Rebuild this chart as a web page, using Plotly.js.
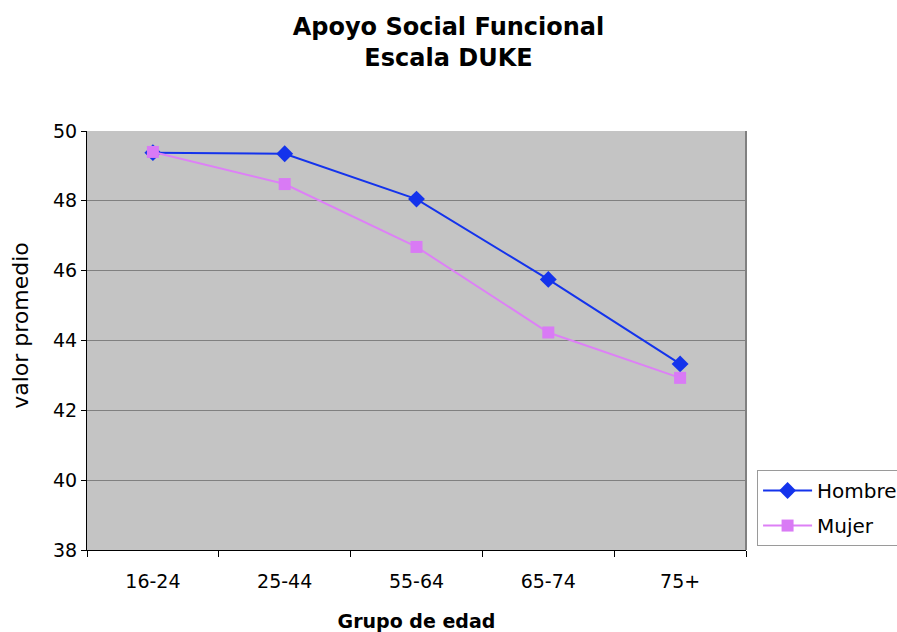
<!DOCTYPE html>
<html>
<head>
<meta charset="utf-8">
<script src="https://cdn.plot.ly/plotly-3.0.1.min.js"></script>
<style>
  html, body { margin: 0; padding: 0; background: #ffffff; }
  #chart { width: 897px; height: 632px; }
</style>
</head>
<body>
<div id="chart"></div>
<script>
// Age groups on the category axis
const grupos = ['16-24', '25-44', '55-64', '65-74', '75+'];

// Mean DUKE functional social support score by sex
const hombre = [49.38, 49.35, 48.05, 45.75, 43.33];
const mujer  = [49.40, 48.48, 46.68, 44.23, 42.93];

const yTicks = [38, 40, 42, 44, 46, 48, 50];

const FONT = 'DejaVu Sans, Verdana, sans-serif';

const traces = [
  {
    x: grupos, y: hombre, name: 'Hombre', type: 'scatter', mode: 'lines+markers',
    legendgroup: 'h',
    line: { color: '#1433ec', width: 2 },
    marker: { symbol: 'diamond', size: 13, color: '#1433ec' }
  },
  {
    x: grupos, y: mujer, name: 'Mujer', type: 'scatter', mode: 'lines+markers',
    legendgroup: 'm',
    line: { color: '#dd80f6', width: 2 },
    marker: { symbol: 'square', size: 12, color: '#d97af5' }
  }
];

const layout = {
  width: 897, height: 632,
  margin: { l: 87, r: 151, t: 131, b: 82 },
  paper_bgcolor: '#ffffff',
  plot_bgcolor: '#c4c4c4',
  font: { family: FONT, size: 19, color: '#000000' },
  title: {
    text: '<b>Apoyo Social Funcional<br>Escala DUKE</b>',
    font: { family: FONT, size: 24, color: '#000000' },
    x: 0.5, xref: 'container', xanchor: 'center',
    y: 0.945, yref: 'container', yanchor: 'middle'
  },
  xaxis: {
    type: 'category',
    range: [-0.5, 4.5],
    tickvals: grupos,
    tickson: 'boundaries',
    ticks: 'outside', ticklen: 6, tickcolor: '#000000',
    ticklabelstandoff: 14,
    showline: true, linecolor: '#000000', linewidth: 1,
    showgrid: false, zeroline: false,
    tickfont: { family: FONT, size: 19 },
    title: { text: '<b>Grupo de edad</b>', font: { family: FONT, size: 19 }, standoff: 23 }
  },
  yaxis: {
    range: [38, 50],
    tickvals: yTicks,
    ticks: 'outside', ticklen: 5, tickcolor: '#000000',
    showline: true, linecolor: '#000000', linewidth: 1,
    showgrid: true, gridcolor: '#808080', gridwidth: 1,
    zeroline: false,
    tickfont: { family: FONT, size: 19 }
  },
  annotations: [
    // vertical axis caption, sitting a little above the axis middle
    { text: 'valor promedio', textangle: -90, showarrow: false,
      xref: 'paper', x: 0, xanchor: 'center', xshift: -66,
      yref: 'paper', y: 0.535, yanchor: 'middle',
      font: { family: FONT, size: 22, color: '#000000' } }
  ],
  shapes: [
    // grey frame on the right-hand side of the plotting area
    { type: 'line', xref: 'paper', yref: 'paper', x0: 1, x1: 1, y0: 0, y1: 1,
      line: { color: '#808080', width: 2 }, layer: 'above' }
  ],
  legend: {
    xref: 'container', x: 0.844, xanchor: 'left',
    yref: 'container', y: 0.136, yanchor: 'bottom',
    bgcolor: '#ffffff',
    bordercolor: '#9a9a9a', borderwidth: 1,
    font: { family: FONT, size: 20 },
    traceorder: 'grouped', tracegroupgap: 6,
    itemwidth: 49
  },
  showlegend: true
};

Plotly.newPlot('chart', traces, layout, { displayModeBar: false, staticPlot: true });
</script>
</body>
</html>
